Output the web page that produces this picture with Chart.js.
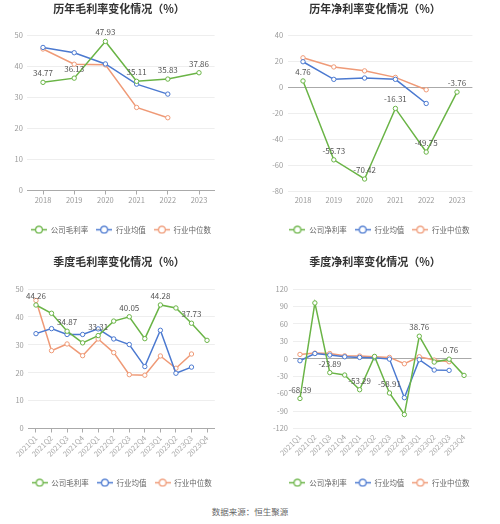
<!DOCTYPE html>
<html>
<head>
<meta charset="utf-8">
<script src="https://cdn.jsdelivr.net/npm/chart.js@4"></script>
<style>
html,body{margin:0;padding:0;background:#fff;}
body{width:500px;height:524px;position:relative;overflow:hidden;font-family:"Noto Sans CJK SC","Noto Sans",sans-serif;}
.box{position:absolute;width:250px;height:250px;}
#source{position:absolute;left:0;width:500px;top:505px;text-align:center;font-size:8.5px;color:#666;}
</style>
</head>
<body>
<div class="box" style="left:0;top:0"><canvas id="c1" width="250" height="250"></canvas></div>
<div class="box" style="left:250px;top:0"><canvas id="c2" width="250" height="250"></canvas></div>
<div class="box" style="left:0;top:250px"><canvas id="c3" width="250" height="250"></canvas></div>
<div class="box" style="left:250px;top:250px"><canvas id="c4" width="250" height="250"></canvas></div>
<div id="source">数据来源：恒生聚源</div>
<script>
// ---- Data ----
const years = ['2018','2019','2020','2021','2022','2023'];
const quarters = ['2021Q1','2021Q2','2021Q3','2021Q4','2022Q1','2022Q2','2022Q3','2022Q4','2023Q1','2023Q2','2023Q3','2023Q4'];

const annualGross = [34.77, 36.13, 47.93, 35.11, 35.83, 37.86];
const annualGrossAvg = [46.0, 44.3, 40.7, 34.2, 31.0, null];
const annualGrossMed = [45.5, 40.6, 40.4, 26.7, 23.4, null];

const annualNet = [4.76, -55.73, -70.42, -16.31, -49.75, -3.76];
const annualNetAvg = [19.5, 6.0, 7.0, 6.0, -12.5, null];
const annualNetMed = [22.5, 15.5, 12.5, 7.5, -2.0, null];

const qGross = [44.26, 41.3, 34.87, 30.7, 33.31, 38.5, 40.05, 32.2, 44.28, 43.2, 37.73, 31.6];
const qGrossAvg = [34.0, 35.8, 33.7, 33.7, 35.7, 32.1, 30.1, 22.2, 35.2, 19.8, 22.0, null];
const qGrossMed = [45.9, 27.9, 30.3, 26.1, 32.1, 27.2, 19.3, 19.1, 26.0, 21.6, 26.7, null];

const qNet = [-68.39, 96.0, -23.89, -28.0, -53.29, 4.0, -58.91, -96.0, 38.76, -5.7, -0.76, -28.6];
const qNetAvg = [-3.4, 9.0, 6.3, 3.4, 2.3, 1.7, -0.6, -67.0, -1.7, -19.4, -20.0, null];
const qNetMed = [7.4, 9.7, 9.0, 5.0, 4.6, 3.4, 2.3, -8.6, 3.4, -2.3, -5.1, null];

const annualLabelIdx = [0,1,2,3,4,5];
const quarterLabelIdx = [0,2,4,6,8,10];

// ---- Styles ----
const GREEN = '#6ab446', BLUE = '#4b79d0', ORANGE = '#ef9a77';
const FONT = '"Noto Sans CJK SC","Noto Sans",sans-serif';

function legendSymbol(color){
  const c = document.createElement('canvas');
  c.width = 16; c.height = 9;
  const g = c.getContext('2d');
  g.strokeStyle = color; g.lineWidth = 1.5;
  g.beginPath(); g.moveTo(0,4.5); g.lineTo(16,4.5); g.stroke();
  g.fillStyle = '#fff'; g.lineWidth = 1.2;
  g.beginPath(); g.arc(8,4.5,3.4,0,Math.PI*2); g.fill(); g.stroke();
  return c;
}

const labelPlugin = {
  id: 'valueLabels',
  afterLayout(chart){
    const o = chart.options.plugins.boxCenters;
    if (!o) return;
    const shift = (box, cx) => {
      if (!box) return;
      const w = box.right - box.left;
      box.left = cx - w / 2; box.right = cx + w / 2;
    };
    shift(chart.titleBlock, o.title);
    shift(chart.legend, o.legend);
  },
  afterDatasetsDraw(chart){
    const ctx = chart.ctx;
    chart.data.datasets.forEach((ds, di) => {
      if (!ds.labelIdx) return;
      const meta = chart.getDatasetMeta(di);
      ctx.save();
      ctx.font = '8px ' + FONT;
      ctx.fillStyle = '#555';
      ctx.textAlign = 'center';
      ctx.textBaseline = 'middle';
      ds.labelIdx.forEach(i => {
        const p = meta.data[i];
        if (!p || ds.data[i] == null) return;
        ctx.fillText(ds.data[i].toFixed(2), p.x, p.y - 9);
      });
      ctx.restore();
    });
  }
};

function makeChart(id, cfg){
  const mk = (label, data, color, labelIdx) => ({
    label, data, borderColor: color, backgroundColor: color,
    borderWidth: 1.5, pointRadius: 2.2, pointHoverRadius: 2.2,
    pointBackgroundColor: '#fff', pointBorderColor: color, pointBorderWidth: 1,
    tension: 0, spanGaps: false, labelIdx, legendImg: legendSymbol(color)
  });
  const rotated = cfg.rotated;
  new Chart(document.getElementById(id), {
    type: 'line',
    data: {
      labels: cfg.labels,
      datasets: [
        mk(cfg.names[0], cfg.series[0], GREEN, cfg.labelIdx),
        mk(cfg.names[1], cfg.series[1], BLUE, null),
        mk(cfg.names[2], cfg.series[2], ORANGE, null)
      ]
    },
    options: {
      responsive: false, animation: false, devicePixelRatio: 1,
      layout: { padding: { left: cfg.L, right: cfg.R, top: 0, bottom: cfg.B } },
      plugins: {
        boxCenters: { title: cfg.titleCx, legend: cfg.legendCx },
        title: { display: true, text: cfg.title, color: '#333',
          font: { family: FONT, size: 11, weight: 'bold', lineHeight: 1.2 },
          padding: { top: cfg.tPadTop, bottom: cfg.tPadBottom } },
        legend: { position: 'bottom',
          labels: { usePointStyle: true, pointStyleWidth: 16, padding: 8, color: '#666',
            font: { family: FONT, size: 7.5 },
            generateLabels(chart){
              return chart.data.datasets.map((ds, i) => ({
                text: ds.label, pointStyle: ds.legendImg, fillStyle: ds.borderColor,
                strokeStyle: ds.borderColor, lineWidth: 0, hidden: false, datasetIndex: i, fontColor: '#666'
              }));
            } } },
        tooltip: { enabled: false }
      },
      scales: {
        x: {
          offset: true,
          border: { display: cfg.zeroBottom, color: '#aaa' },
          grid: { display: cfg.zeroBottom, drawOnChartArea: false, drawTicks: cfg.zeroBottom, tickLength: 4, color: '#aaa', offset: false },
          ticks: { color: rotated ? '#aaa' : '#999', font: { family: FONT, size: 7.5 }, padding: cfg.zeroBottom ? 1 : 4,
            autoSkip: false, maxRotation: rotated ? 45 : 0, minRotation: rotated ? 45 : 0 },
          afterFit(s){ s.height = cfg.H; }
        },
        y: {
          min: cfg.min, max: cfg.max,
          border: { display: false },
          grid: { drawTicks: false, color: c => (c.tick && c.tick.value === 0) ? '#aaa' : '#eeeeee', lineWidth: 1 },
          ticks: { stepSize: cfg.step, color: '#999', font: { family: FONT, size: 7.5 }, padding: 4.5 },
          afterFit(s){ s.width = cfg.W; }
        }
      }
    },
    plugins: [labelPlugin]
  });
}

makeChart('c1', { title: '历年毛利率变化情况（%）', labels: years,
  names: ['公司毛利率','行业均值','行业中位数'],
  series: [annualGross, annualGrossAvg, annualGrossMed], labelIdx: annualLabelIdx,
  min: 0, max: 50, step: 10, L: 4, W: 23.4, R: 35.4, B: 6.5, H: 27.5,
  titleCx: 119, legendCx: 121,
  tPadTop: 2, tPadBottom: 19.8, zeroBottom: true, rotated: false });

makeChart('c2', { title: '历年净利率变化情况（%）', labels: years,
  names: ['公司净利率','行业均值','行业中位数'],
  series: [annualNet, annualNetAvg, annualNetMed], labelIdx: annualLabelIdx,
  min: -80, max: 40, step: 20, L: 4, W: 33.6, R: 27.6, B: 6.5, H: 26.5,
  titleCx: 125, legendCx: 129.5,
  tPadTop: 2, tPadBottom: 19.8, zeroBottom: false, rotated: false });

makeChart('c3', { title: '季度毛利率变化情况（%）', labels: quarters,
  names: ['公司毛利率','行业均值','行业中位数'],
  series: [qGross, qGrossAvg, qGrossMed], labelIdx: quarterLabelIdx,
  min: 0, max: 50, step: 10, L: 4, W: 24.2, R: 35.2, B: 3.5, H: 42.5,
  titleCx: 119, legendCx: 121.7,
  tPadTop: 5.4, tPadBottom: 20.4, zeroBottom: true, rotated: true });

makeChart('c4', { title: '季度净利率变化情况（%）', labels: quarters,
  names: ['公司净利率','行业均值','行业中位数'],
  series: [qNet, qNetAvg, qNetMed], labelIdx: quarterLabelIdx,
  min: -120, max: 120, step: 30, L: 4, W: 38.5, R: 28.5, B: 3.5, H: 42.5,
  titleCx: 125, legendCx: 129.5,
  tPadTop: 5.4, tPadBottom: 20.4, zeroBottom: false, rotated: true });
</script>
</body>
</html>
